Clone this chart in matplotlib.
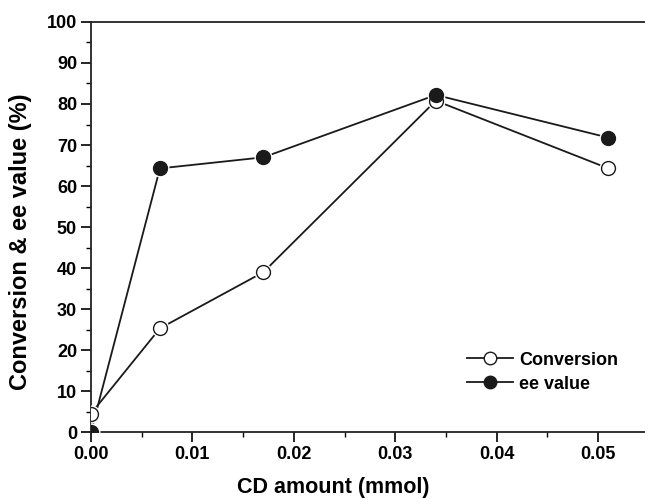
import matplotlib.pyplot as plt
from matplotlib.ticker import MultipleLocator

# CD amount (mmol)
cd_amount = [0.0, 0.0068, 0.017, 0.034, 0.051]
conversion = [4.5, 25.3, 39.0, 80.8, 64.3]
ee_value = [0.0, 64.3, 67.0, 82.2, 71.8]

plt.rcParams['font.family'] = ['Liberation Sans', 'DejaVu Sans']
plt.rcParams['font.weight'] = 'bold'

fig = plt.figure(figsize=(6.45, 4.99), dpi=100)
ax = fig.add_axes([0.141, 0.134, 0.865, 0.822])

line_col = '#1a1a1a'
# white halo under markers so lines stop short of them
for ys in (conversion, ee_value):
    ax.plot(cd_amount, ys, 'o', ms=12, mfc='white', mec='white', zorder=3)
ax.plot(cd_amount, conversion, '-', color=line_col, lw=1.3, zorder=2)
ax.plot(cd_amount, ee_value, '-', color=line_col, lw=1.3, zorder=2)
ax.plot(cd_amount, conversion, 'o', ms=10, mfc='white', mec=line_col, mew=1.0, zorder=4)
ax.plot(cd_amount, ee_value, 'o', ms=10, mfc=line_col, mec=line_col, mew=1.0, zorder=5)

# legend proxies
ax.plot([], [], '-o', color=line_col, lw=1.3, ms=9, mfc='white', mec=line_col, label='Conversion')
ax.plot([], [], '-o', color=line_col, lw=1.3, ms=9, mfc=line_col, mec=line_col, label='ee value')

ax.set_xlim(0, 0.055)
ax.set_ylim(0, 100)
ax.xaxis.set_major_locator(MultipleLocator(0.01))
ax.xaxis.set_minor_locator(MultipleLocator(0.005))
ax.yaxis.set_major_locator(MultipleLocator(10))
ax.yaxis.set_minor_locator(MultipleLocator(5))
ax.xaxis.set_major_formatter(plt.FormatStrFormatter('%.2f'))

ax.tick_params(which='major', direction='out', length=7, width=1.2, labelsize=13, pad=3)
ax.tick_params(which='minor', direction='out', length=3.5, width=1.0)
for s in ax.spines.values():
    s.set_linewidth(1.3)
    s.set_color('#222222')

ax.set_xlabel('CD amount (mmol)', fontsize=15.5, fontweight='bold')
ax.set_ylabel('Conversion & ee value (%)', fontsize=17, fontweight='bold')
ax.xaxis.set_label_coords(0.435, -0.11)
ax.yaxis.set_label_coords(-0.105, 0.465)

ax.legend(loc='upper left', bbox_to_anchor=(0.645, 0.236), frameon=False,
          fontsize=13, handlelength=2.55, handletextpad=0.33, labelspacing=0.4)

fig.savefig('out.png', dpi=100)
